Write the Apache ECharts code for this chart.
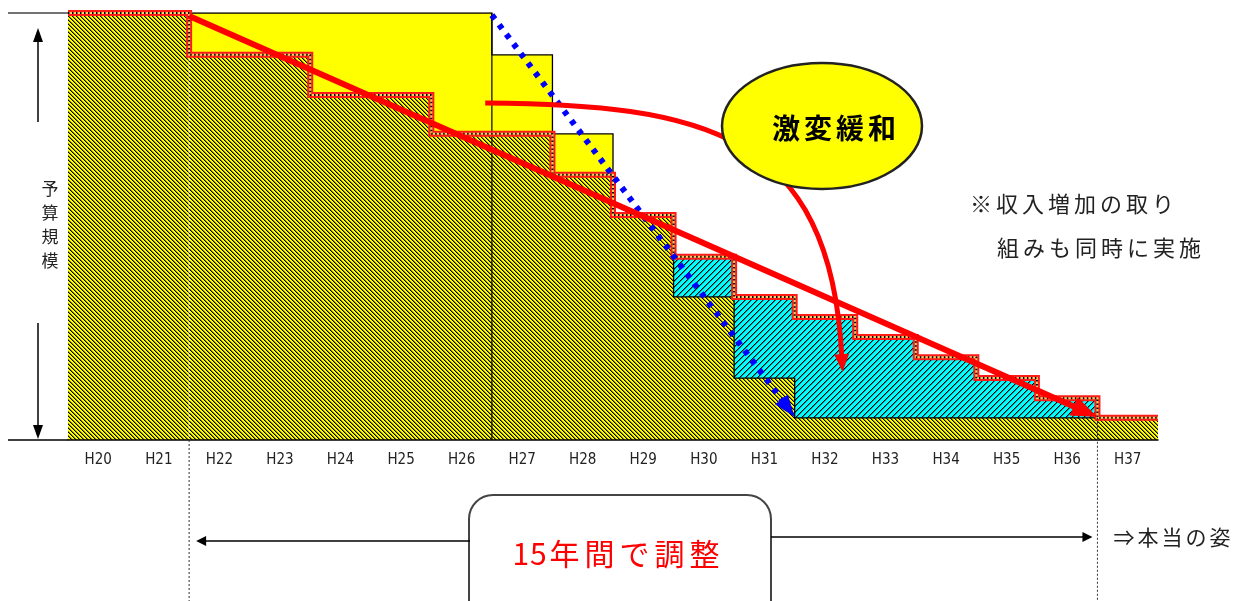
<!DOCTYPE html>
<html>
<head>
<meta charset="utf-8">
<script src="https://cdn.jsdelivr.net/npm/echarts@6/dist/echarts.min.js"></script>
<style>
    html, body { margin: 0; padding: 0; background: #fff; }
    #budget_chart { width: 1248px; height: 601px; }
</style>
</head>
<body>
<div id="budget_chart"></div>
<script>

// Data
// ------------------------------

// Fiscal years (Heisei)
var years = ['H20', 'H21', 'H22', 'H23', 'H24', 'H25', 'H26', 'H27', 'H28', 'H29',
             'H30', 'H31', 'H32', 'H33', 'H34', 'H35', 'H36', 'H37'];

// Budget level with gradual adjustment (red strip on top of each step)
var budgetLevel = [100, 100, 90.2, 90.2, 80.8, 80.8, 71.7, 71.7, 62.1, 52.7,
                   42.9, 33.5, 28.8, 24.1, 19.4, 14.5, 9.8, 5.2];

// Budget level under a drastic cut (top of the yellow hatched area)
var cutLevel = [100, 100, 90.2, 90.2, 80.8, 80.8, 71.7, 71.7, 62.1, 52.7,
                33.5, 14.5, 5.2, 5.2, 5.2, 5.2, 5.2, 5.2];

// Earlier plan level (plain yellow boxes above the steps)
var planLevel = [100, 100, 100, 100, 100, 100, 100, 90.2, 71.7, null,
                 null, null, null, null, null, null, null, null];

// Year indexes: start of the 15-year adjustment, start of the cut, final year
var adjustFrom = 2, cutFrom = 7, adjustTo = 17;

// Arrows in axis units: [x0, y0, x1, y1]
var trendArrow = [2.0, 99.3, 17.0, 5.4];
var cutArrow = [7.0, 99.5, 12.0, 5.4];
// Curved arrow (cubic bezier) in axis units
var easeArrow = [6.89, 78.9, 10.45, 78.5, 12.6, 72.6, 12.79, 15.9];


// Helpers
// ------------------------------

var jpFont = '"Noto Sans CJK JP", sans-serif';

function makeHatch(bg, period, dir) {
    var c = document.createElement('canvas');
    var n = period * 2;
    c.width = n;
    c.height = n;
    var ctx = c.getContext('2d');
    ctx.fillStyle = bg;
    ctx.fillRect(0, 0, n, n);
    for (var y = 0; y < n; y++) {
        for (var x = 0; x < n; x++) {
            var k = (((dir > 0 ? x + y : x - y) % period) + period) % period;
            if (k === 0) {
                ctx.fillStyle = '#000';
                ctx.fillRect(x, y, 1, 1);
            } else if (k === 1) {
                ctx.fillStyle = 'rgba(0,0,0,0.45)';
                ctx.fillRect(x, y, 1, 1);
            }
        }
    }
    return { image: c, repeat: 'repeat' };
}

var yellowHatch = makeHatch('#ffff00', 4, -1);
var cyanHatch = makeHatch('#00ffff', 6, 1);

function stepPoints(levels, from, to) {
    var pts = [];
    for (var i = from; i <= to; i++) {
        if (levels[i] == null) continue;
        pts.push([i, levels[i]], [i + 1, levels[i]]);
    }
    return pts;
}

function bandRects(lower, upper) {
    var out = [];
    for (var i = 0; i < years.length; i++) {
        var lo = typeof lower === 'number' ? lower : lower[i];
        var hi = upper[i];
        if (hi == null || lo == null || hi <= lo) continue;
        out.push([i, i + 1, lo, hi]);
    }
    return out;
}

function rectRenderer(fill) {
    return function (params, api) {
        var a = api.coord([api.value(0), api.value(3)]);
        var b = api.coord([api.value(1), api.value(2)]);
        var x0 = Math.round(a[0]), x1 = Math.round(b[0]);
        var y0 = Math.round(a[1]), y1 = Math.round(b[1]);
        return {
            type: 'rect',
            shape: { x: x0, y: y0, width: x1 - x0, height: y1 - y0 },
            style: { fill: fill, stroke: null }
        };
    };
}

function headPoints(tip, ux, uy, len, width) {
    var bx = tip[0] - ux * len, by = tip[1] - uy * len, w = width / 2;
    return [[tip[0], tip[1]], [bx - uy * w, by + ux * w], [bx + uy * w, by - ux * w]];
}

var arrowStyles = [
    { color: '#ff0000', width: 6, dash: null, head: [26, 20] },
    { color: '#0000ff', width: 6, dash: [5, 7], head: [22, 16] }
];

function textItem(str, x, y, size, color, weight) {
    return {
        type: 'text', z: 100,
        style: {
            text: str, x: x, y: y, fill: color || '#222',
            font: (weight || 'normal') + ' ' + size + 'px ' + jpFont,
            align: 'center', verticalAlign: 'middle',
            textAlign: 'center', textVerticalAlign: 'middle'
        }
    };
}

function spacedText(str, x, y, pitch, size, color, weight) {
    var out = [], cx = x;
    for (var i = 0; i < str.length; i++) {
        var ch = str.charAt(i);
        var w = ch.charCodeAt(0) < 256 ? pitch / 2 : pitch;
        out.push(textItem(ch, cx + w / 2, y, size, color, weight));
        cx += w;
    }
    return out;
}


// Chart
// ------------------------------

var chart_element = document.getElementById('budget_chart');
var chart = echarts.init(chart_element, null, { renderer: 'canvas' });

var lineBase = { type: 'line', xAxisIndex: 1, yAxisIndex: 0, symbol: 'none', silent: true, animation: false };

chart.setOption({
    animation: false,
    grid: { left: 68, right: 90, top: 13, bottom: 161 },
    xAxis: [{
        type: 'category',
        data: years,
        boundaryGap: true,
        axisLine: { show: true, lineStyle: { color: '#000', width: 1.5 } },
        axisTick: { show: false },
        axisLabel: {
            color: '#222',
            fontSize: 15,
            fontFamily: '"Liberation Sans Narrow", "DejaVu Sans Condensed", sans-serif',
            margin: 13
        },
        splitLine: { show: false },
        z: 20
    }, {
        type: 'value',
        min: 0,
        max: years.length,
        show: false
    }],
    yAxis: [{
        type: 'value',
        min: 0,
        max: 100,
        show: false
    }],
    series: [
        // Plain yellow boxes (earlier plan)
        {
            type: 'custom', xAxisIndex: 1, yAxisIndex: 0, z: 1, silent: true,
            renderItem: rectRenderer('#ffff00'),
            encode: { x: [0, 1], y: [2, 3] },
            data: bandRects(budgetLevel, planLevel)
        },
        // Yellow hatched area (drastic cut level)
        {
            type: 'custom', xAxisIndex: 1, yAxisIndex: 0, z: 2, silent: true,
            renderItem: rectRenderer(yellowHatch),
            encode: { x: [0, 1], y: [2, 3] },
            data: bandRects(0, cutLevel)
        },
        // Cyan hatched area (eased part)
        {
            type: 'custom', xAxisIndex: 1, yAxisIndex: 0, z: 3, silent: true,
            renderItem: rectRenderer(cyanHatch),
            encode: { x: [0, 1], y: [2, 3] },
            data: bandRects(cutLevel, budgetLevel)
        },
        // Outline of the plan boxes
        Object.assign({}, lineBase, {
            z: 4,
            lineStyle: { color: '#000', width: 1.3, join: 'miter' },
            data: stepPoints(planLevel, 0, cutFrom + 1).concat([[cutFrom + 2, budgetLevel[cutFrom + 1]]])
        }),
        // Outline under the cyan area
        Object.assign({}, lineBase, {
            z: 4,
            lineStyle: { color: '#000', width: 1.3, join: 'miter' },
            data: [[10, budgetLevel[10]]].concat(stepPoints(cutLevel, 10, adjustTo))
        }),
        // Divider where the drastic cut starts
        Object.assign({}, lineBase, {
            z: 4,
            lineStyle: { color: '#000', width: 1.2 },
            data: [[cutFrom, planLevel[cutFrom - 1]], [cutFrom, 0]]
        }),
        // White dotted line where the adjustment starts
        Object.assign({}, lineBase, {
            z: 4,
            lineStyle: { color: '#fff', width: 1, type: [2, 2] },
            data: [[adjustFrom, budgetLevel[adjustFrom]], [adjustFrom, 0]]
        }),
        // Red strip: budget steps
        Object.assign({}, lineBase, {
            z: 5,
            lineStyle: { color: '#ff1a1a', width: 6, join: 'miter' },
            data: stepPoints(budgetLevel, 0, adjustTo)
        }),
        Object.assign({}, lineBase, {
            z: 5,
            lineStyle: { color: '#ffcc66', width: 2, join: 'miter' },
            data: stepPoints(budgetLevel, 0, adjustTo)
        }),
        Object.assign({}, lineBase, {
            z: 5,
            lineStyle: { color: '#000', width: 2, type: [1.5, 2.5] },
            data: stepPoints(budgetLevel, 0, adjustTo)
        }),
        // Straight arrows (blue dotted cut, red trend)
        {
            type: 'custom', xAxisIndex: 1, yAxisIndex: 0, z: 6, silent: true,
            encode: { x: [0, 2], y: [1, 3] },
            data: [cutArrow, trendArrow],
            renderItem: function (params, api) {
                var s = arrowStyles[params.dataIndex === 0 ? 1 : 0];
                var p0 = api.coord([api.value(0), api.value(1)]);
                var p1 = api.coord([api.value(2), api.value(3)]);
                var dx = p1[0] - p0[0], dy = p1[1] - p0[1];
                var len = Math.sqrt(dx * dx + dy * dy);
                var ux = dx / len, uy = dy / len;
                var endX = p1[0] - ux * (s.head[0] - 2), endY = p1[1] - uy * (s.head[0] - 2);
                return {
                    type: 'group',
                    children: [{
                        type: 'line',
                        shape: { x1: p0[0], y1: p0[1], x2: endX, y2: endY },
                        style: { stroke: s.color, lineWidth: s.width, lineDash: s.dash, lineCap: 'butt' }
                    }, {
                        type: 'polygon',
                        shape: { points: headPoints(p1, ux, uy, s.head[0], s.head[1]) },
                        style: { fill: s.color }
                    }]
                };
            }
        },
        // Curved arrow (easing)
        {
            type: 'custom', xAxisIndex: 1, yAxisIndex: 0, z: 7, silent: true,
            encode: { x: [0, 2, 4, 6], y: [1, 3, 5, 7] },
            data: [easeArrow],
            renderItem: function (params, api) {
                var p0 = api.coord([api.value(0), api.value(1)]);
                var c1 = api.coord([api.value(2), api.value(3)]);
                var c2 = api.coord([api.value(4), api.value(5)]);
                var p1 = api.coord([api.value(6), api.value(7)]);
                var dx = p1[0] - c2[0], dy = p1[1] - c2[1];
                var len = Math.sqrt(dx * dx + dy * dy);
                var ux = dx / len, uy = dy / len;
                return {
                    type: 'group',
                    children: [{
                        type: 'bezierCurve',
                        shape: {
                            x1: p0[0], y1: p0[1], cpx1: c1[0], cpy1: c1[1],
                            cpx2: c2[0], cpy2: c2[1], x2: p1[0] - ux * 14, y2: p1[1] - uy * 14
                        },
                        style: { stroke: '#ff0000', lineWidth: 5, fill: null }
                    }, {
                        type: 'polygon',
                        shape: { points: headPoints(p1, ux, uy, 18, 15) },
                        style: { fill: '#ff0000' }
                    }]
                };
            }
        }
    ]
});


// Annotations
// ------------------------------

var xStart = chart.convertToPixel({ xAxisIndex: 1 }, adjustFrom);
var xEnd = chart.convertToPixel({ xAxisIndex: 1 }, adjustTo);
var yTop = chart.convertToPixel({ yAxisIndex: 0 }, 100);
var yBase = chart.convertToPixel({ yAxisIndex: 0 }, 0);
var yFloor = chart.convertToPixel({ yAxisIndex: 0 }, cutLevel[adjustTo]);

var thin = { stroke: '#000', lineWidth: 1.5 };
var graphics = [
    // left scale marker
    { type: 'line', z: 100, shape: { x1: 8, y1: yTop, x2: 68, y2: yTop }, style: { stroke: '#444', lineWidth: 1.5 } },
    { type: 'line', z: 100, shape: { x1: 8, y1: yBase, x2: 68, y2: yBase }, style: thin },
    { type: 'line', z: 100, shape: { x1: 38, y1: 122, x2: 38, y2: 40 }, style: thin },
    { type: 'polygon', z: 100, shape: { points: [[38, 28], [33, 42], [43, 42]] }, style: { fill: '#000' } },
    { type: 'line', z: 100, shape: { x1: 38, y1: 323, x2: 38, y2: 428 }, style: thin },
    { type: 'polygon', z: 100, shape: { points: [[38, 439], [33, 425], [43, 425]] }, style: { fill: '#000' } },

    // ellipse label
    { type: 'ellipse', z: 90, shape: { cx: 822, cy: 126, rx: 100, ry: 63 }, style: { fill: '#ffff00', stroke: '#222', lineWidth: 2.5 } },

    // dotted lines under the axis
    { type: 'line', z: 100, shape: { x1: xStart, y1: yBase, x2: xStart, y2: 601 }, style: { stroke: '#333', lineWidth: 1, lineDash: [2, 2] } },
    { type: 'line', z: 100, shape: { x1: xEnd, y1: yFloor, x2: xEnd, y2: 601 }, style: { stroke: '#333', lineWidth: 1, lineDash: [2, 2] } },

    // 15-year span arrows and box
    { type: 'line', z: 100, shape: { x1: 470, y1: 541, x2: xStart + 14, y2: 541 }, style: thin },
    { type: 'polygon', z: 100, shape: { points: [[xStart + 7, 541], [xStart + 17, 536], [xStart + 17, 546]] }, style: { fill: '#000' } },
    { type: 'line', z: 100, shape: { x1: 771, y1: 537, x2: xEnd - 12, y2: 537 }, style: thin },
    { type: 'polygon', z: 100, shape: { points: [[xEnd - 5, 537], [xEnd - 15, 532], [xEnd - 15, 542]] }, style: { fill: '#000' } },
    { type: 'rect', z: 95, shape: { x: 469, y: 495, width: 302, height: 140, r: 24 }, style: { fill: '#fff', stroke: '#444', lineWidth: 2 } }
];

graphics = graphics
    .concat(spacedText('予', 38, 189, 24, 17))
    .concat(spacedText('算', 38, 213, 24, 17))
    .concat(spacedText('規', 38, 237, 24, 17))
    .concat(spacedText('模', 38, 261, 24, 17))
    .concat(spacedText('激変緩和', 770, 128, 32, 28, '#000', 'bold'))
    .concat(spacedText('※収入増加の取り', 968, 204, 26, 22, '#222'))
    .concat(spacedText('組みも同時に実施', 995, 248, 26, 22, '#222'))
    .concat(spacedText('15年間で調整', 512, 554, 35, 30, '#ff0000'))
    .concat(spacedText('⇒本当の姿', 1112, 537, 24, 21, '#222'));

chart.setOption({ graphic: graphics });

window.addEventListener('resize', function () {
    chart.resize();
});
</script>
</body>
</html>
